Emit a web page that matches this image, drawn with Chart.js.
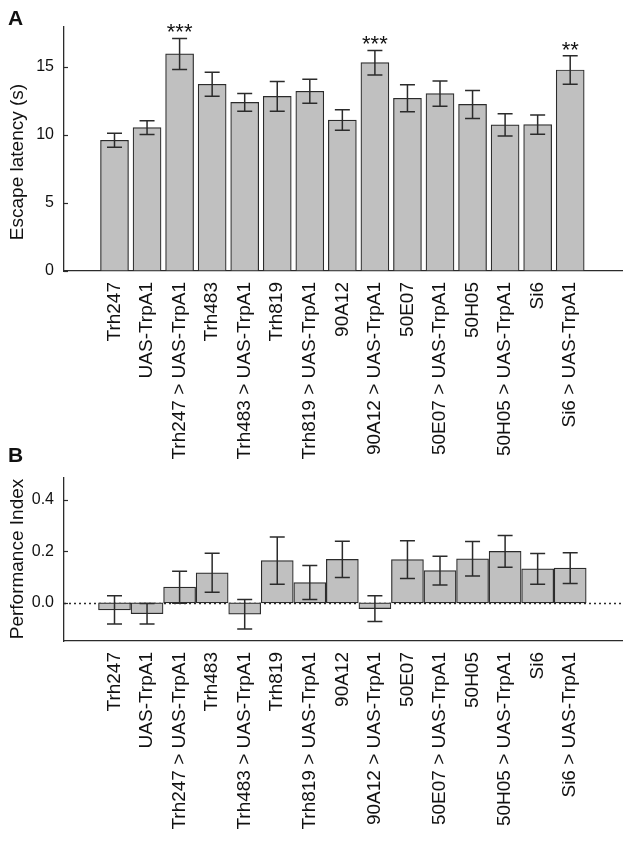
<!DOCTYPE html>
<html><head><meta charset="utf-8">
<script src="https://cdn.jsdelivr.net/npm/chart.js@4.4.0/dist/chart.umd.min.js"></script>
<style>
html,body{margin:0;padding:0;background:#fff;}
#wrap{position:relative;width:630px;height:843px;overflow:hidden;background:#fff;}
#ca{position:absolute;left:0;top:0;}
#cb{position:absolute;left:0;top:440px;}
</style></head><body>
<div id="wrap"><canvas id="ca" width="630" height="475"></canvas><canvas id="cb" width="630" height="403"></canvas></div>
<script>
const categories = ['Trh247','UAS-TrpA1','Trh247 > UAS-TrpA1','Trh483','Trh483 > UAS-TrpA1','Trh819','Trh819 > UAS-TrpA1','90A12','90A12 > UAS-TrpA1','50E07','50E07 > UAS-TrpA1','50H05','50H05 > UAS-TrpA1','Si6','Si6 > UAS-TrpA1'];
const latencyMean = [9.61, 10.54, 15.96, 13.73, 12.40, 12.84, 13.21, 11.10, 15.32, 12.70, 13.04, 12.25, 10.74, 10.76, 14.78];
const latencyErr  = [0.52, 0.50, 1.14, 0.88, 0.65, 1.10, 0.88, 0.76, 0.90, 1.00, 0.93, 1.03, 0.82, 0.71, 1.05];
const latencyStars = ['', '', '***', '', '', '', '', '', '***', '', '', '', '', '', '**'];
const latencyTicks = [0, 5, 10, 15];
const piMean = [-0.027, -0.042, 0.061, 0.117, -0.044, 0.164, 0.079, 0.169, -0.022, 0.168, 0.125, 0.171, 0.200, 0.132, 0.135];
const piErr  = [0.055, 0.040, 0.062, 0.076, 0.057, 0.092, 0.066, 0.070, 0.050, 0.073, 0.056, 0.067, 0.062, 0.060, 0.060];
const piTicks = [0.0, 0.2, 0.4];

const INK = '#2b2b2b';
const FONT = "'Liberation Sans', Arial, sans-serif";

const extras = {
  id: 'extras',
  beforeDatasetsDraw(chart, args, o) {
    if (!o.zeroLine) return;
    const ctx = chart.ctx, y = chart.scales.y, a = chart.chartArea;
    const py = Math.round(y.getPixelForValue(0)) + 0.5;
    ctx.save();
    ctx.strokeStyle = INK; ctx.lineWidth = 1.3; ctx.setLineDash([2, 3]);
    ctx.beginPath(); ctx.moveTo(a.left, py); ctx.lineTo(a.right, py); ctx.stroke();
    ctx.restore();
  },
  afterDatasetsDraw(chart, args, o) {
    const ctx = chart.ctx, x = chart.scales.x, y = chart.scales.y, a = chart.chartArea;
    ctx.save();
    ctx.strokeStyle = INK; ctx.lineWidth = 1.5;
    o.mean.forEach((m, i) => {
      const px = x.getPixelForValue(i);
      const top = y.getPixelForValue(m + o.err[i]);
      const bot = y.getPixelForValue(m - o.err[i]);
      ctx.beginPath();
      ctx.moveTo(px, top); ctx.lineTo(px, bot);
      ctx.moveTo(px - 7.5, top); ctx.lineTo(px + 7.5, top);
      ctx.moveTo(px - 7.5, bot); ctx.lineTo(px + 7.5, bot);
      ctx.stroke();
      if (o.stars && o.stars[i]) {
        ctx.fillStyle = '#111';
        ctx.font = '22px ' + FONT;
        ctx.textAlign = 'center'; ctx.textBaseline = 'alphabetic';
        ctx.fillText(o.stars[i], px, top + 1);
      }
    });
    // inward tick marks on y axis
    ctx.lineWidth = 1.2;
    y.ticks.forEach(t => {
      const py = Math.round(y.getPixelForValue(t.value)) + 0.5;
      ctx.beginPath(); ctx.moveTo(a.left, py); ctx.lineTo(a.left + 4, py); ctx.stroke();
    });
    // axis title
    ctx.fillStyle = '#111';
    ctx.font = '19px ' + FONT;
    ctx.translate(o.titleX, o.titleY);
    ctx.rotate(-Math.PI / 2);
    ctx.textAlign = 'center'; ctx.textBaseline = 'middle';
    ctx.fillText(o.title, 0, 0);
    ctx.setTransform(1, 0, 0, 1, 0, 0);
    // panel letter
    ctx.font = 'bold 21px ' + FONT;
    ctx.textAlign = 'left'; ctx.textBaseline = 'alphabetic';
    ctx.fillText(o.letter, 8, o.letterY);
    ctx.restore();
  }
};

function makeChart(canvasId, cfg) {
  return new Chart(document.getElementById(canvasId), {
    type: 'bar',
    data: {
      datasets: [{
        data: cfg.mean.map((v, i) => ({ x: i, y: v })),
        backgroundColor: '#c0c0c0',
        borderColor: INK,
        borderWidth: 1.2,
        borderSkipped: false,
        barThickness: cfg.barThickness
      }]
    },
    options: {
      responsive: false,
      animation: false,
      events: [],
      layout: { padding: { top: cfg.padTop, right: 8, left: 0, bottom: 0 } },
      plugins: {
        legend: { display: false },
        tooltip: { enabled: false },
        extras: cfg.extras
      },
      scales: {
        x: {
          type: 'linear',
          min: -0.98, max: 15.02,
          grid: { display: false, drawTicks: false },
          border: { display: true, color: INK, width: 1.3 },
          afterBuildTicks: s => { s.ticks = categories.map((_, i) => ({ value: i })); },
          afterFit: s => { s.height = cfg.xHeight; },
          ticks: {
            autoSkip: false, maxRotation: 90, minRotation: 90, padding: 11,
            color: '#111', font: { family: FONT, size: 19 },
            callback: v => categories[v]
          }
        },
        y: {
          min: cfg.yMin, max: cfg.yMax,
          grid: { display: false, drawTicks: false },
          border: { display: true, color: INK, width: 1.3 },
          afterBuildTicks: s => { s.ticks = cfg.ticks.map(v => ({ value: v })); },
          afterFit: s => { s.width = 64; },
          ticks: {
            padding: 10, color: '#111', font: { family: FONT, size: 16 },
            callback: cfg.fmt
          }
        }
      }
    },
    plugins: [extras]
  });
}

makeChart('ca', {
  mean: latencyMean, barThickness: 28, padTop: 27, xHeight: 475 - 271,
  yMin: 0, yMax: 17.94, ticks: latencyTicks, fmt: v => String(v),
  extras: { mean: latencyMean, err: latencyErr, stars: latencyStars, zeroLine: false,
            title: 'Escape latency (s)', titleX: 18, titleY: 162, letter: 'A', letterY: 25 }
});

makeChart('cb', {
  mean: piMean, barThickness: 32, padTop: 38, xHeight: 403 - 201,
  yMin: -0.148, yMax: 0.485, ticks: piTicks, fmt: v => v.toFixed(1),
  extras: { mean: piMean, err: piErr, stars: null, zeroLine: true,
            title: 'Performance Index', titleX: 18, titleY: 119, letter: 'B', letterY: 22 }
});
</script>
</body></html>
